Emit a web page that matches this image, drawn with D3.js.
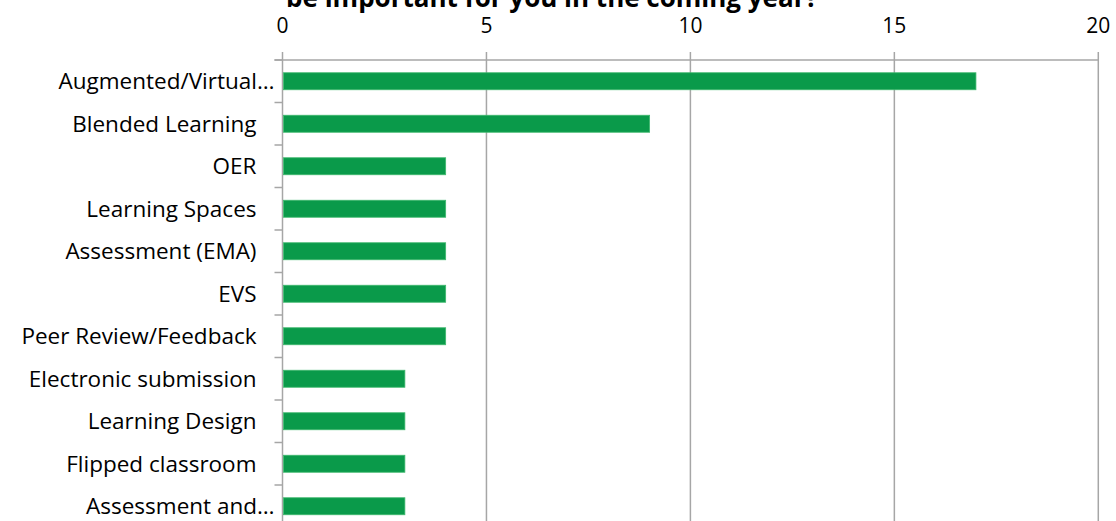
<!DOCTYPE html>
<html>
<head>
<meta charset="utf-8">
<script src="https://cdn.jsdelivr.net/npm/d3@7"></script>
<style>
  body { margin: 0; background: #fff; }
  svg { display: block; font-family: "Open Sans", Lato, sans-serif; }
</style>
</head>
<body>
<div id="chart"></div>
<script>
// Survey answers: topics that will be important in the coming year
const categories = [
  'Augmented/Virtual…', 'Blended Learning', 'OER', 'Learning Spaces',
  'Assessment (EMA)', 'EVS', 'Peer Review/Feedback', 'Electronic submission',
  'Learning Design', 'Flipped classroom', 'Assessment and…'
];
const counts = [17, 9, 4, 4, 4, 4, 4, 3, 3, 3, 3];
const xTicks = [0, 5, 10, 15, 20];
const titleLine = 'be important for you in the coming year?';

const width = 1116;
const height = 521;
const margin = { top: 60, left: 282.5, right: 17.7 };
const rowStep = 42.5;

const data = categories.map((c, i) => ({ name: c, value: counts[i] }));

const svg = d3.select('#chart')
  .append('svg')
  .attr('width', width)
  .attr('height', height);

const x = d3.scaleLinear()
  .domain([0, 20])
  .range([margin.left, width - margin.right]);

const y = d3.scaleBand()
  .domain(categories)
  .range([margin.top, margin.top + rowStep * categories.length])
  .paddingInner(0.6)
  .paddingOuter(0.3);

// vertical gridlines
svg.append('g')
  .selectAll('line')
  .data(xTicks)
  .enter().append('line')
  .attr('x1', d => x(d)).attr('x2', d => x(d))
  .attr('y1', margin.top - 8).attr('y2', height + 20)
  .attr('stroke', '#a6a6a6')
  .attr('stroke-width', 1.5);

// top axis line
svg.append('line')
  .attr('x1', margin.left - 8).attr('x2', x(20))
  .attr('y1', margin.top).attr('y2', margin.top)
  .attr('stroke', '#a6a6a6')
  .attr('stroke-width', 1.5);

// tick labels on top
svg.append('g')
  .selectAll('text')
  .data(xTicks)
  .enter().append('text')
  .attr('x', d => x(d))
  .attr('y', 33)
  .attr('text-anchor', 'middle')
  .attr('font-size', 21)
  .attr('fill', '#000')
  .text(d => d);

// category separators on left axis
const step = y.step();
svg.append('g')
  .selectAll('line')
  .data(d3.range(categories.length + 1))
  .enter().append('line')
  .attr('x1', margin.left - 8).attr('x2', margin.left)
  .attr('y1', i => margin.top + i * step)
  .attr('y2', i => margin.top + i * step)
  .attr('stroke', '#a6a6a6')
  .attr('stroke-width', 1.5);

// bars
svg.append('g')
  .selectAll('rect')
  .data(data)
  .enter().append('rect')
  .attr('x', x(0) + 1)
  .attr('y', d => y(d.name))
  .attr('width', d => x(d.value) - x(0) - 1)
  .attr('height', y.bandwidth())
  .attr('fill', '#0a9a4a')
  .attr('stroke', '#3fb86e')
  .attr('stroke-width', 0.8);

// category labels
svg.append('g')
  .selectAll('text')
  .data(data)
  .enter().append('text')
  .attr('x', d => d.name.endsWith('…') ? margin.left - 8 : margin.left - 26)
  .attr('y', d => y(d.name) + y.bandwidth() / 2)
  .attr('dy', '0.36em')
  .attr('text-anchor', 'end')
  .attr('font-size', 22.5)
  .attr('fill', '#000')
  .text(d => d.name);

// title (top line is cut off by the frame)
svg.append('text')
  .attr('x', 552)
  .attr('y', 7)
  .attr('text-anchor', 'middle')
  .attr('font-size', 26)
  .attr('font-weight', 'bold')
  .attr('fill', '#000')
  .text(titleLine);
</script>
</body>
</html>
